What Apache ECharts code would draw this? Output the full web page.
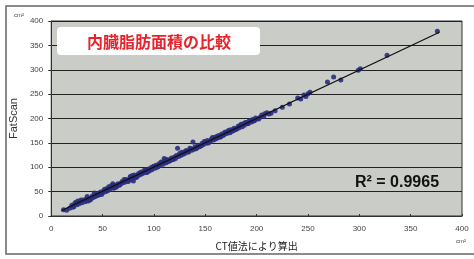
<!DOCTYPE html>
<html>
<head>
<meta charset="utf-8">
<script src="https://cdn.jsdelivr.net/npm/echarts@6/dist/echarts.min.js"></script>
<style>
  html, body { margin: 0; padding: 0; background: #fff; }
  #chart { width: 474px; height: 259px; }
</style>
</head>
<body>
<div id="chart"></div>
<script>
// CT値法 (x) / FatScan (y), cm2
const ctValues = [
  12, 15, 18, 20, 22, 24, 25, 27, 28, 30, 31, 33, 34, 35, 37, 38, 40, 41, 43, 44,
  45, 47, 48, 50, 51, 53, 54, 55, 57, 58, 60, 61, 62, 64, 65, 66, 68, 69, 70, 72,
  73, 74, 76, 77, 78, 80, 81, 82, 84, 85, 86, 88, 89, 90, 92, 93, 94, 96, 97, 98,
  100, 101, 102, 104, 105, 106, 108, 109, 110, 112, 113, 114, 116, 117, 118, 120, 121, 122, 124, 125,
  126, 128, 129, 130, 132, 133, 134, 136, 137, 138, 139, 140, 142, 143, 144, 146, 147, 148, 150, 151,
  152, 154, 155, 156, 158, 159, 160, 162, 163, 164, 166, 167, 168, 170, 171, 172, 174, 175, 176, 178,
  179, 180, 182, 183, 184, 186, 187, 188, 190, 191, 192, 194, 195, 196, 198, 199, 200, 123, 60, 35,
  80, 110, 26, 46, 63, 87, 99, 115, 131, 145, 161, 177, 189, 203, 205, 207, 210, 212, 218, 225,
  232, 240, 243, 246, 248, 250, 252, 269, 275, 282, 299, 301, 327, 376,
  21, 29, 36, 42, 49, 56, 59, 67, 71, 75, 79, 83, 91, 95, 103, 107, 111, 119, 127, 135,
  141, 149, 153, 157, 165, 169, 173, 181, 185, 193, 197, 202, 208, 214, 23, 39, 52, 63, 77, 93
];
const fatScanValues = [
  13, 12, 16, 22, 19, 28, 23, 25, 30, 27, 33, 29, 35, 32, 36, 33, 41, 38, 40, 45,
  42, 44, 49, 47, 52, 50, 56, 52, 55, 60, 58, 57, 63, 61, 66, 63, 67, 71, 68, 70,
  75, 72, 74, 79, 76, 78, 84, 80, 82, 87, 84, 86, 91, 88, 94, 90, 96, 94, 99, 95,
  102, 98, 104, 101, 107, 104, 110, 106, 112, 109, 116, 112, 114, 119, 116, 121, 118, 124, 122, 128,
  124, 126, 131, 128, 134, 131, 132, 138, 135, 152, 137, 142, 140, 145, 142, 144, 149, 146, 151, 149,
  155, 152, 153, 158, 156, 161, 158, 160, 165, 162, 168, 165, 166, 172, 169, 174, 171, 177, 174, 180,
  177, 178, 184, 181, 186, 183, 189, 186, 192, 189, 190, 196, 193, 198, 196, 201, 199, 139, 66, 40,
  72, 118, 31, 43, 60, 90, 101, 113, 134, 143, 163, 175, 192, 202, 207, 204, 212, 209, 216, 223,
  230, 242, 240, 248, 245, 251, 254, 275, 285, 279, 299, 302, 330, 379,
  18, 33, 31, 47, 44, 60, 63, 64, 75, 71, 83, 79, 95, 92, 100, 111, 115, 116, 131, 139,
  138, 153, 150, 161, 162, 172, 176, 179, 188, 196, 195, 199, 210, 211, 26, 36, 55, 59, 81, 89
];
// regression line ends
const trendX = [10, 378];
const trendY = [11, 377];
const yTicks = [0, 50, 100, 150, 200, 250, 300, 350, 400];

const points = ctValues.map((x, i) => [x, fatScanValues[i]]);
const trend = trendX.map((x, i) => [x, trendY[i]]);

const chart = echarts.init(document.getElementById('chart'));
const font = 'Liberation Sans, Arial, sans-serif';

chart.setOption({
  animation: false,
  grid: { left: 50, right: 12, top: 21, bottom: 43, show: true, backgroundColor: '#c9ccc7', borderColor: '#333', borderWidth: 1 },
  xAxis: {
    type: 'value', min: 0, max: 400, interval: 50,
    name: 'CT値法により算出', nameLocation: 'middle', nameGap: 25,
    nameTextStyle: { fontFamily: 'Noto Sans CJK JP', fontSize: 10, color: '#222' },
    axisLine: { lineStyle: { color: '#333' } },
    axisTick: { inside: true, length: 2, lineStyle: { color: '#333' } },
    axisLabel: { fontFamily: font, fontSize: 8, color: '#444', margin: 9 },
    splitLine: { show: false }
  },
  yAxis: {
    type: 'value', min: 0, max: 400, interval: 50,
    name: 'FatScan', nameLocation: 'middle', nameGap: 28,
    nameTextStyle: { fontFamily: font, fontSize: 11, color: '#333' },
    axisLine: { show: true, lineStyle: { color: '#333' } },
    axisTick: { show: true, length: 3, lineStyle: { color: '#333' } },
    axisLabel: { fontFamily: font, fontSize: 8, color: '#444', margin: 8,
      customValues: yTicks },
    splitLine: { lineStyle: { color: '#222', width: 1 } }
  },
  series: [
    {
      type: 'scatter', data: points, symbolSize: 5,
      itemStyle: { color: '#2a2e7e', opacity: 0.9 }, z: 2
    },
    {
      type: 'line', data: trend, symbol: 'none',
      lineStyle: { color: '#111', width: 1.2 }, z: 3
    }
  ],
  graphic: [
    { type: 'polyline', shape: { points: [[474, 6], [6, 6], [6, 254], [474, 254]] },
      style: { stroke: '#666', lineWidth: 1.5, fill: null } },
    { type: 'rect', shape: { x: 57, y: 27, width: 203, height: 28, r: 4 },
      style: { fill: '#fff' }, z: 10 },
    { type: 'text', x: 159, y: 42, z: 11,
      style: { text: '内臓脂肪面積の比較', fontFamily: 'Noto Sans CJK JP', fontSize: 16, fontWeight: 'bold',
        fill: '#e8232b', align: 'center', verticalAlign: 'middle' } },
    { type: 'text', x: 355, y: 183, z: 11,
      style: { text: 'R² = 0.9965', fontFamily: font, fontSize: 16, fontWeight: 'bold',
        fill: '#111', verticalAlign: 'middle' } },
    { type: 'text', x: 14, y: 15, z: 11,
      style: { text: 'cm²', fontFamily: font, fontSize: 6, fill: '#444', verticalAlign: 'middle' } },
    { type: 'text', x: 456, y: 241, z: 11,
      style: { text: 'cm²', fontFamily: font, fontSize: 6, fill: '#444', verticalAlign: 'middle' } }
  ]
});
</script>
</body>
</html>
